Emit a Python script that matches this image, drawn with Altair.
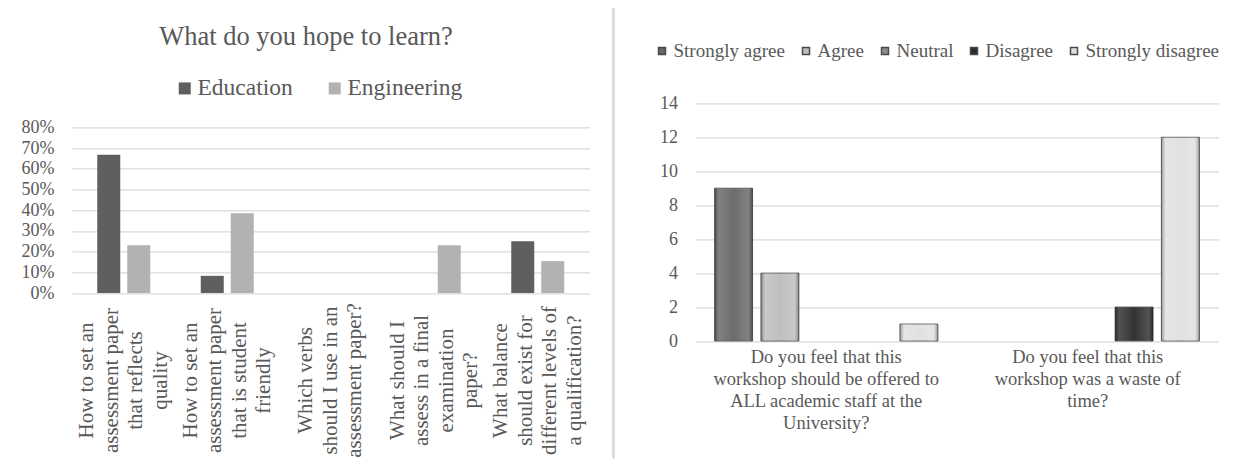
import altair as alt
import pandas as pd

# ---------------- data ----------------
learn_labels = [
    ["How to set an", "assessment paper", "that reflects", "quality"],
    ["How to set an", "assessment paper", "that is student", "friendly"],
    ["Which verbs", "should I use in an", "assessment paper?"],
    ["What should I", "assess in a final", "examination", "paper?"],
    ["What balance", "should exist for", "different levels of", "a qualification?"],
]
learn_series = ["Education", "Engineering"]
education = [0.667, 0.083, 0.0, 0.0, 0.25]
engineering = [0.231, 0.385, 0.0, 0.231, 0.154]
pct_ticks = [0, 0.1, 0.2, 0.3, 0.4, 0.5, 0.6, 0.7, 0.8]

workshop_labels = [
    ["Do you feel that this", "workshop should be offered to",
     "ALL academic staff at the", "University?"],
    ["Do you feel that this", "workshop was a waste of", "time?"],
]
responses = ["Strongly agree", "Agree", "Neutral", "Disagree", "Strongly disagree"]
strongly_agree = [9, 0]
agree = [4, 0]
neutral = [0, 0]
disagree = [0, 2]
strongly_disagree = [1, 12]
count_ticks = [0, 2, 4, 6, 8, 10, 12, 14]

# ---------------- tables ----------------
learn_q = ["\n".join(l) for l in learn_labels]
rows = []
for i, q in enumerate(learn_q):
    rows.append({"question": q, "series": "Education", "value": education[i]})
    rows.append({"question": q, "series": "Engineering", "value": engineering[i]})
df_left = pd.DataFrame(rows)

work_q = ["\n".join(l) for l in workshop_labels]
series_vals = [strongly_agree, agree, neutral, disagree, strongly_disagree]
rows = []
for i, q in enumerate(work_q):
    for r, vals in zip(responses, series_vals):
        rows.append({"question": q, "response": r, "count": vals[i]})
df_right = pd.DataFrame(rows)

FONT = "Liberation Serif"
TXT = "#595959"
GRID = "#d9d9d9"
LINE_L = 24.5

# ---------------- left chart ----------------
LW, LH = 517.5, 189.7
left = alt.Chart(df_left).mark_bar().encode(
    x=alt.X("question:N", sort=learn_q,
            scale=alt.Scale(paddingInner=0.488, paddingOuter=0.244),
            axis=alt.Axis(title=None, labelAngle=-90, labelAlign="center",
                          labelBaseline="middle",
                          labelExpr="split(datum.label, '\\n')",
                          labelOffset={"condition": {"test": "length(split(datum.label, '\\n')) == 3",
                                                     "value": -LINE_L},
                                       "value": -1.5 * LINE_L},
                          labelPadding=87, ticks=False, tickSize=0, domain=False,
                          grid=False, labelFont=FONT, labelFontSize=21,
                          labelColor=TXT, labelLineHeight=LINE_L, labelLimit=400,
                          labelOverlap=False)),
    xOffset=alt.XOffset("series:N", sort=learn_series,
                        scale=alt.Scale(paddingInner=0.233, paddingOuter=0)),
    y=alt.Y("value:Q",
            scale=alt.Scale(domain=[0, 0.8], range=[LH, 24]),
            axis=alt.Axis(title=None, values=pct_ticks, format=".0%",
                          ticks=False, tickSize=0, domain=False, grid=True,
                          gridColor=GRID, gridWidth=1.3, labelPadding=18,
                          labelFont=FONT, labelFontSize=18, labelColor=TXT)),
    color=alt.Color("series:N",
                    scale=alt.Scale(domain=learn_series, range=["#5f5f5f", "#b2b2b2"]),
                    legend=alt.Legend(title=None, orient="none", direction="horizontal",
                                      legendX=101, legendY=-27, symbolType="square",
                                      symbolSize=144, symbolStrokeWidth=0,
                                      labelFont=FONT, labelFontSize=23.5, labelColor=TXT,
                                      labelOffset=1, columnPadding=30)),
).properties(
    width=LW, height=LH,
    title=alt.TitleParams("What do you hope to learn?", font=FONT, fontSize=26.5,
                          fontWeight="normal", color=TXT, anchor="middle",
                          dx=-24.75, offset=26),
)

# ---------------- right chart ----------------
RW, RH = 523, 237.7
xr = alt.X("question:N", sort=work_q,
           scale=alt.Scale(domain=work_q, paddingInner=0.146, paddingOuter=0.073),
           axis=alt.Axis(title=None, labelAngle=0, labelAlign="center",
                         labelBaseline="top",
                         labelExpr="split(datum.label, '\\n')",
                         labelPadding=6, ticks=False, tickSize=0, domain=False,
                         grid=False, labelFont=FONT, labelFontSize=18.5,
                         labelColor=TXT, labelLineHeight=22, labelLimit=400))
xo = alt.XOffset("response:N",
                 scale=alt.Scale(domain=responses, paddingInner=0.18, paddingOuter=0))
yr = alt.Y("count:Q", scale=alt.Scale(domain=[0, 14]),
           axis=alt.Axis(title=None, values=count_ticks, ticks=False, tickSize=0,
                         domain=False, grid=True, gridColor=GRID, gridWidth=1.3,
                         labelPadding=18, labelFont=FONT, labelFontSize=18,
                         labelColor=TXT))

base_r = alt.Chart(df_right).transform_filter("datum.count > 0")

bars = base_r.mark_bar(stroke="#4a4a4a", strokeWidth=0.8).encode(
    x=xr, xOffset=xo, y=yr,
    color=alt.Color("response:N",
                    scale=alt.Scale(domain=responses,
                                    range=["#666666", "#bdbdbd", "#8c8c8c", "#2b2b2b", "#e0e0e0"]),
                    legend=alt.Legend(title=None, orient="none", direction="horizontal",
                                      legendX=-43, legendY=-62, symbolType="square",
                                      symbolSize=49, labelFont=FONT, labelFontSize=19,
                                      labelColor=TXT, labelOffset=2, columnPadding=11)),
)
gloss = base_r.mark_bar(
    color=alt.LinearGradient(
        gradient="linear", x1=0, x2=1, y1=0, y2=0,
        stops=[alt.GradientStop(color="rgba(0,0,0,0.35)", offset=0),
               alt.GradientStop(color="rgba(255,255,255,0.18)", offset=0.12),
               alt.GradientStop(color="rgba(255,255,255,0.04)", offset=0.5),
               alt.GradientStop(color="rgba(255,255,255,0.18)", offset=0.88),
               alt.GradientStop(color="rgba(0,0,0,0.35)", offset=1)])
).encode(x=xr, xOffset=xo, y=yr)

divider = alt.Chart(df_right).mark_rule(color=GRID, strokeWidth=1.3).encode(
    x=alt.value(-82), y=alt.value(-103), y2=alt.value(355))

right = alt.layer(divider, bars, gloss).properties(width=RW, height=RH)

chart = alt.hconcat(left, right, spacing=105.5, bounds="flush").resolve_scale(
    color="independent", xOffset="independent", x="independent", y="independent"
).resolve_legend(color="independent").properties(
    autosize=alt.AutoSizeParams(type="none"),
    padding={"left": 64, "top": 95.3, "right": 1160, "bottom": 358.7},
    background="white",
).configure_view(stroke=None)

chart.save("out.html", embed_options={"renderer": "svg", "actions": False})
